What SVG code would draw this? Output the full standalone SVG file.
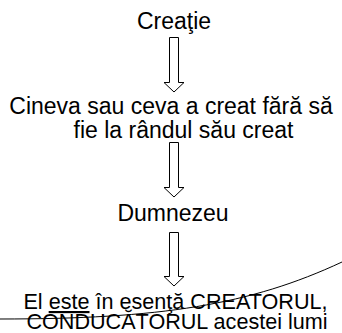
<svg xmlns="http://www.w3.org/2000/svg" width="342" height="333" viewBox="0 0 342 333">
<style>
text{font-family:"Liberation Sans",Arial,sans-serif;fill:#000;text-anchor:middle}
.t{font-size:23px}
.s{font-size:21.6px}
.arrow{fill:#fff;stroke:#000;stroke-width:1}
.curve{fill:none;stroke:#000;stroke-width:1}
</style>
<rect width="342" height="333" fill="#fff"/>
<g id="connectors">
<path class="arrow" d="M169.5,37.5 H178.5 V82.5 H184 L174,92 L164,82.5 H169.5 Z"/>
<path class="arrow" d="M169.5,142.5 H178.5 V187.5 H184 L174,197 L164,187.5 H169.5 Z"/>
<path class="arrow" d="M169.5,232.5 H178.5 V276.5 H184 L174,286 L164,276.5 H169.5 Z"/>
</g>
<g id="creatie"><text class="t" x="174" y="29">Creaţie</text></g>
<g id="cineva"><text class="t" x="171" y="114">Cineva sau ceva a creat fără să</text><text class="t" x="183.5" y="138">fie la rândul său creat</text></g>
<g id="dumnezeu"><text class="t" x="173" y="221">Dumnezeu</text></g>
<g id="el"><text class="s" x="175.5" y="309">El <tspan style="text-decoration:underline">este</tspan> în esenţă CREATORUL,</text><text class="s" x="177" y="329">CONDUCĂTORUL acestei lumi</text></g>
<path class="curve" d="M0,319 C160,319 250,305 342,262"/>
</svg>
